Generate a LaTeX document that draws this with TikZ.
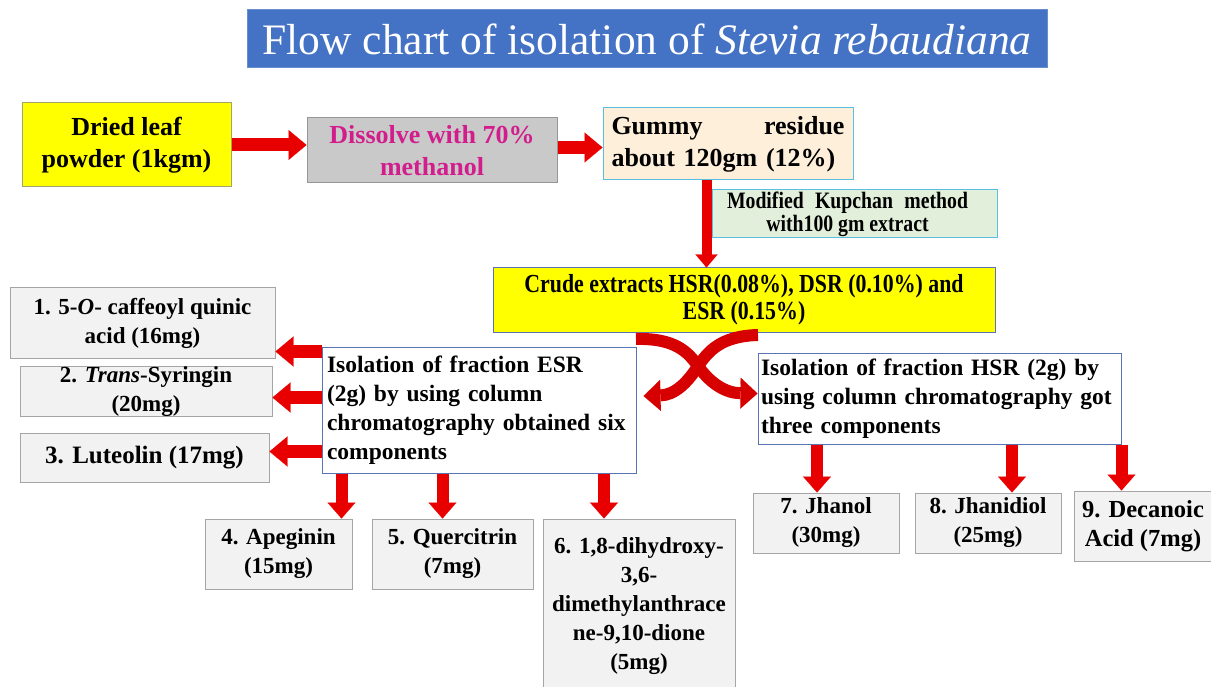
\documentclass[tikz,border=0pt]{standalone}
\usepackage{fontspec}
\setmainfont{Liberation Serif}
\newfontfamily\condfont[FakeStretch=0.84]{Liberation Serif}
\usetikzlibrary{arrows.meta}
\definecolor{titleblue}{RGB}{68,114,196}
\definecolor{arrowred}{RGB}{232,0,0}
\definecolor{ribbonred}{RGB}{214,0,0}
\definecolor{leafyellow}{RGB}{255,255,0}
\definecolor{olivegray}{RGB}{160,165,110}
\definecolor{dissolvegray}{RGB}{201,201,201}
\definecolor{dissolveedge}{RGB}{150,150,150}
\definecolor{magentatext}{RGB}{210,30,140}
\definecolor{peach}{RGB}{253,239,218}
\definecolor{lightblueedge}{RGB}{90,190,225}
\definecolor{palegreen}{RGB}{226,239,218}
\definecolor{blueedge}{RGB}{90,115,180}
\definecolor{boxgray}{RGB}{242,242,242}
\definecolor{grayedge}{RGB}{165,165,165}
\begin{document}
\begin{tikzpicture}[x=1pt,y=-1pt,
  box/.style={draw, line width=1pt, inner sep=0pt, align=center},
  mainfont/.style={font=\bfseries\fontsize{26}{32}\selectfont},
  compfont/.style={font=\bfseries\fontsize{23}{29}\selectfont},
  compbox/.style={box, fill=boxgray, draw=grayedge, compfont},
  isobox/.style={box, fill=white, draw=blueedge, align=left, font=\bfseries\fontsize{23.5}{29}\selectfont},
  harrow/.style={line width=13pt, draw=arrowred, -{Triangle[length=18pt,width=30pt,line width=0.1pt]}},
  varrow/.style={line width=12pt, draw=arrowred, -{Triangle[length=16pt,width=28pt,line width=0.1pt]}},
  karrow/.style={line width=10pt, draw=arrowred, -{Triangle[length=13pt,width=22pt,line width=0.1pt]}},
  ribbon/.style={line width=12pt, draw=ribbonred, -{Triangle[length=17pt,width=31pt,line width=0.1pt]}}
]
\useasboundingbox (0,0) rectangle (1211,687);
\clip (0,0) rectangle (1211,687);

% title
\node[box, draw=titleblue!80!white, fill=titleblue, text=white,
      minimum width=800pt, minimum height=58pt,
      font=\fontsize{43.5}{46}\selectfont] (title) at (647,39)
  {Flow chart of isolation of \textit{Stevia rebaudiana}};

% top row
\node[box, fill=leafyellow, draw=olivegray, mainfont,
      minimum width=209pt, minimum height=84pt] (dried) at (126.5,145)
  {Dried leaf\\powder (1kgm)};
\node[box, fill=dissolvegray, draw=dissolveedge, mainfont, text=magentatext,
      minimum width=250pt, minimum height=65pt] (dissolve) at (432,150.5)
  {Dissolve with 70\%\\methanol};
\node[box, fill=peach, draw=lightblueedge, mainfont, align=left, text width=233pt,
      minimum width=250pt, minimum height=72pt] (gummy) at (728,144)
  {\makebox[233pt][l]{Gummy\hfill residue}\\about 120gm (12\%)};
\node[box, fill=palegreen, draw=lightblueedge,
      font=\condfont\bfseries\fontsize{23.5}{23}\selectfont,
      minimum width=285pt, minimum height=48pt] (kup) at (854.5,214)
  {\makebox[241pt][l]{Modified\hfill Kupchan\hfill method}\hspace*{14pt}\\with100 gm extract\hspace*{14pt}};

% crude extracts
\node[box, fill=leafyellow, draw=blueedge,
      font=\condfont\bfseries\fontsize{26}{27}\selectfont,
      minimum width=502pt, minimum height=64pt] (crude) at (744,300)
  {Crude extracts HSR(0.08\%), DSR (0.10\%) and\\ESR (0.15\%)};

% isolation boxes
\node[isobox, text width=304pt, minimum width=314pt, minimum height=126pt] (esr) at (479,410)
  {Isolation of fraction ESR\\(2g) by using column\\chromatography obtained six\\components};
\node[isobox, text width=357pt, minimum width=363pt, minimum height=91pt] (hsr) at (939.5,398.5)
  {Isolation of fraction HSR (2g) by\\using column chromatography got\\three components};

% components
\node[compbox, minimum width=265pt, minimum height=70pt] (b1) at (142.5,323)
  {1. 5-\textit{O}- caffeoyl quinic\\acid (16mg)};
\node[compbox, minimum width=252pt, minimum height=49pt] (b2) at (146,391.5)
  {2. \textit{Trans}-Syringin\\(20mg)};
\node[compbox, minimum width=249pt, minimum height=49pt,
      font=\bfseries\fontsize{25}{29}\selectfont] (b3) at (144.5,457.5)
  {3. Luteolin (17mg)};
\node[compbox, minimum width=147pt, minimum height=70pt] (b4) at (278.5,554)
  {4. Apeginin\\(15mg)};
\node[compbox, minimum width=161pt, minimum height=70pt] (b5) at (452.5,554)
  {5. Quercitrin\\(7mg)};
\node[compbox, minimum width=192pt, minimum height=175pt] (b6) at (639,606.5)
  {6. 1,8-dihydroxy-\\3,6-\\dimethylanthrace\\ne-9,10-dione\\(5mg)};
\node[compbox, minimum width=146pt, minimum height=60pt] (b7) at (826,523)
  {7. Jhanol\\(30mg)};
\node[compbox, minimum width=146pt, minimum height=60pt] (b8) at (988,523)
  {8. Jhanidiol\\(25mg)};
\node[compbox, minimum width=138pt, minimum height=70pt,
      font=\bfseries\fontsize{24.5}{29}\selectfont] (b9) at (1143,526)
  {9. Decanoic\\Acid (7mg)};

% top row arrows
\coordinate (s0) at (dried.east);
\draw[harrow] (s0) -- (s0 -| dissolve.west);
\coordinate (s00) at ([yshift=3pt]dissolve.east);
\draw[harrow] (s00) -- (s00 -| gummy.west);
\coordinate (k0) at ([xshift=-5pt]kup.west);
\draw[karrow] (k0 |- gummy.south) -- (k0 |- crude.north);

% curved crossing arrows
\coordinate (rl) at (636,339);
\coordinate (rr) at (758,335);
\coordinate (hsrin) at ([yshift=5pt]hsr.west);
\coordinate (esrin) at ([xshift=7pt,yshift=14pt]esr.east);
\draw[ribbon] (rr) .. controls (720,336) and (708,352) .. (698,366)
              .. controls (688,382) and (675,395) .. (esrin);
\draw[ribbon] (rl) .. controls (675,338) and (688,352) .. (698,366)
              .. controls (710,383) and (725,393) .. (hsrin);

% ESR to left components
\coordinate (e1) at ([yshift=-5pt]esr.north west);
\coordinate (e2) at ([yshift=-51pt]esr.north west);
\coordinate (e3) at ([yshift=-105pt]esr.north west);
\draw[harrow] (e1) -- (e1 -| b1.east);
\draw[harrow] (e2) -- (e2 -| b2.east);
\draw[harrow] (e3) -- (e3 -| b3.east);

% ESR down arrows
\coordinate (t4) at ([xshift=-11pt]b4.north east);
\coordinate (t5) at ([xshift=-10pt]b5.north);
\coordinate (t6) at ([xshift=-35pt]b6.north);
\draw[varrow] (t4 |- esr.south) -- (t4);
\draw[varrow] (t5 |- esr.south) -- (t5);
\draw[varrow] (t6 |- esr.south) -- (t6);

% HSR down arrows
\coordinate (t7) at ([xshift=-9pt]b7.north);
\coordinate (t8) at ([xshift=24pt]b8.north);
\coordinate (t9) at ([xshift=48pt]b9.north west);
\draw[varrow] (t7 |- hsr.south) -- (t7);
\draw[varrow] (t8 |- hsr.south) -- (t8);
\draw[varrow] (t9 |- hsr.south) -- (t9);
\end{tikzpicture}
\end{document}
